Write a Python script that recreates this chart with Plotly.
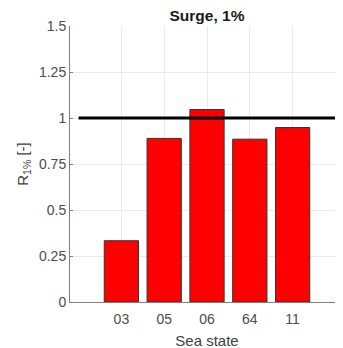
import plotly.graph_objects as go

categories = ["03", "05", "06", "64", "11"]
positions = [1, 2, 3, 4, 5]
values = [0.333, 0.889, 1.046, 0.885, 0.948]
ref_x = [0, 6]
ref_y = [1, 1]
y_ticks = [0, 0.25, 0.5, 0.75, 1, 1.25, 1.5]
y_tick_labels = ["0", "0.25", "0.5", "0.75", "1", "1.25", "1.5"]

font_family = "Liberation Sans, Arial, sans-serif"
W, H = 343, 348
OFF = 8  # page body margin

fig = go.Figure()
fig.add_trace(go.Bar(
    x=positions, y=values, width=0.8,
    marker=dict(color="#ff0000", line=dict(color="#333333", width=1)),
    showlegend=False,
))
fig.add_trace(go.Scatter(
    x=ref_x, y=ref_y, mode="lines",
    line=dict(color="#000000", width=3), showlegend=False,
))

fig.update_layout(
    width=W, height=H,
    margin=dict(l=70 - OFF, r=W - (344 - OFF), t=26 - OFF, b=H - (302 - OFF)),
    paper_bgcolor="white", plot_bgcolor="white",
    font=dict(family=font_family, size=14, color="#404040"),
    title=dict(text="<b>Surge, 1%</b>", x=(207 - OFF) / W, xanchor="center",
               y=1 - (15.5 - OFF) / H, yanchor="middle",
               font=dict(size=15.5, color="#1a1a1a", family=font_family)),
    xaxis=dict(
        range=[-0.2, 6.2], tickvals=positions, ticktext=categories,
        showgrid=True, gridcolor="#ebebeb", gridwidth=1,
        showline=True, linecolor="#808080", linewidth=1,
        ticks="", zeroline=False, automargin=False,
        ticklabelstandoff=4,
        title=dict(text="Sea state", font=dict(size=15, color="#404040"), standoff=9),
        tickfont=dict(size=14, color="#4d4d4d"),
    ),
    yaxis=dict(
        range=[0, 1.5], tickvals=y_ticks, ticktext=y_tick_labels,
        showgrid=True, gridcolor="#ebebeb", gridwidth=1,
        showline=True, linecolor="#808080", linewidth=1,
        ticks="inside", ticklen=3, tickcolor="#808080",
        zeroline=False, automargin=False,
        title=dict(text="R<sub>1%</sub> [-]", font=dict(size=15, color="#404040"), standoff=6),
        tickfont=dict(size=14, color="#4d4d4d"),
    ),
)

fig.write_html("out.html")
